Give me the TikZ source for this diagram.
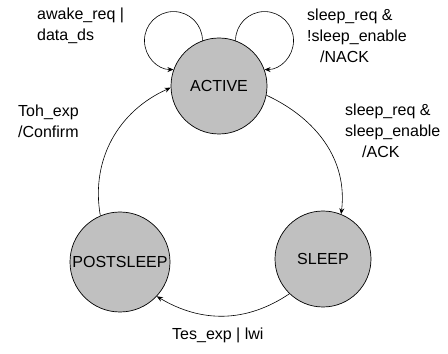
\documentclass[tikz,border=0pt]{standalone}
\usepackage{fontspec}
\setmainfont{Liberation Sans}
\usepackage{tikz}
\usetikzlibrary{arrows.meta}

\definecolor{stategray}{RGB}{192,192,192}

\begin{document}
\begin{tikzpicture}[x=1pt, y=1pt,
    stnode/.style={draw, circle, fill=stategray, line width=0.7pt, inner sep=0pt, minimum size=96pt, font=\fontsize{16}{21}\selectfont},
    trans/.style={line width=0.6pt, -{Stealth[length=6pt, width=5pt]}},
    lbl/.style={anchor=west, inner sep=0pt, align=left, font=\fontsize{16}{21}\selectfont}]

\useasboundingbox (0,0) rectangle (448,354);

% states

\node[stnode] (act) at (219, 268) {ACTIVE};
\node[stnode] (slp) at (323, 95) {SLEEP};
\node[stnode, minimum size=100pt] (post) at (120, 92) {POSTSLEEP};

% annotations

\node[lbl] (lawake) at (37, 328.5) {awake\_req |\\data\_ds};
\node[lbl] (lnack) at (307, 318) {sleep\_req \&\\!sleep\_enable\\\hspace*{13pt}/NACK};
\node[lbl] (lack) at (345, 223) {sleep\_req \&\\sleep\_enable\\\hspace*{17pt}/ACK};
\node[lbl] (lconf) at (18, 233) {Toh\_exp\\/Confirm};
\node[lbl] (ltes) at (172, 19) {Tes\_exp | lwi};

% self loops

\draw [trans] (act.110) arc[start angle=0, end angle=270, radius=29];
\draw [trans] (act.70) arc[start angle=180, end angle=-90, radius=29];

% transitions

\draw [trans] (act.-11) to[out=-25, in=83] (slp.68);
\draw [trans] (slp.226) to[out=214, in=-31] (post.-43);
\draw [trans] (post.113) to[out=100, in=204] (act.182);

\end{tikzpicture}
\end{document}
